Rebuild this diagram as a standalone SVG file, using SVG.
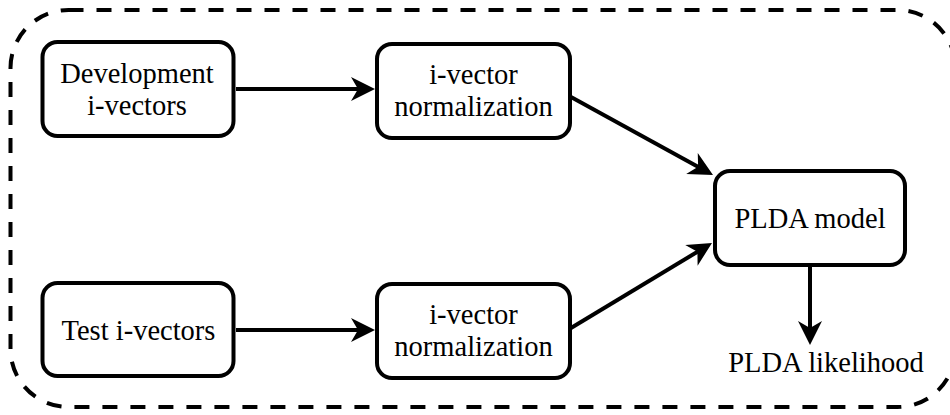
<svg xmlns="http://www.w3.org/2000/svg" width="950" height="415" viewBox="0 0 950 415">
  <style>
    .node rect { fill: #ffffff; stroke: #000000; stroke-width: 4; }
    .node text, .label { font-family: "Liberation Serif", "Times New Roman", serif; font-size: 28.5px; fill: #000000; text-anchor: middle; }
    .frame { fill: none; stroke: #000000; stroke-width: 4; stroke-dasharray: 15 13; }
    .edge { fill: none; stroke: #000000; stroke-width: 4; }
  </style>
  <defs>
    <marker id="arrow" markerUnits="userSpaceOnUse" markerWidth="40" markerHeight="32" viewBox="-30 -16 40 32" refX="-12" refY="0" orient="auto">
      <path d="M0,0 L-24,-12 L-17,0 L-24,12 Z" fill="#000000"/>
    </marker>
  </defs>

  <rect width="950" height="415" fill="#ffffff"/>

  <!-- dashed system boundary (right side runs past the canvas edge) -->
  <rect class="frame" x="10.5" y="10" width="945" height="397" rx="58" ry="58"/>

  <g id="connectors">
    <line class="edge" x1="236" y1="89" x2="363" y2="89" marker-end="url(#arrow)"/>
    <line class="edge" x1="236" y1="330" x2="363" y2="330" marker-end="url(#arrow)"/>
    <line class="edge" x1="571" y1="97" x2="702.5" y2="169.2" marker-end="url(#arrow)"/>
    <line class="edge" x1="571" y1="328" x2="701.7" y2="249.2" marker-end="url(#arrow)"/>
    <line class="edge" x1="810" y1="267" x2="810" y2="333" marker-end="url(#arrow)"/>
  </g>

  <g id="dev-ivectors" class="node">
    <rect x="42.5" y="42" width="191" height="94" rx="15" ry="15"/>
    <text x="137" y="83">Development</text>
    <text x="137" y="115">i-vectors</text>
  </g>

  <g id="norm-dev" class="node">
    <rect x="377" y="44" width="193" height="94" rx="15" ry="15"/>
    <text x="473.5" y="84">i-vector</text>
    <text x="473.5" y="116">normalization</text>
  </g>

  <g id="test-ivectors" class="node">
    <rect x="42.5" y="283" width="191" height="93" rx="15" ry="15"/>
    <text x="138.5" y="340">Test i-vectors</text>
  </g>

  <g id="norm-test" class="node">
    <rect x="377" y="284" width="193" height="94" rx="15" ry="15"/>
    <text x="473.5" y="324">i-vector</text>
    <text x="473.5" y="356">normalization</text>
  </g>

  <g id="plda-model" class="node">
    <rect x="715" y="171" width="190" height="94" rx="15" ry="15"/>
    <text x="810" y="228">PLDA model</text>
  </g>

  <g id="plda-likelihood">
    <text class="label" x="826" y="372">PLDA likelihood</text>
  </g>
</svg>
